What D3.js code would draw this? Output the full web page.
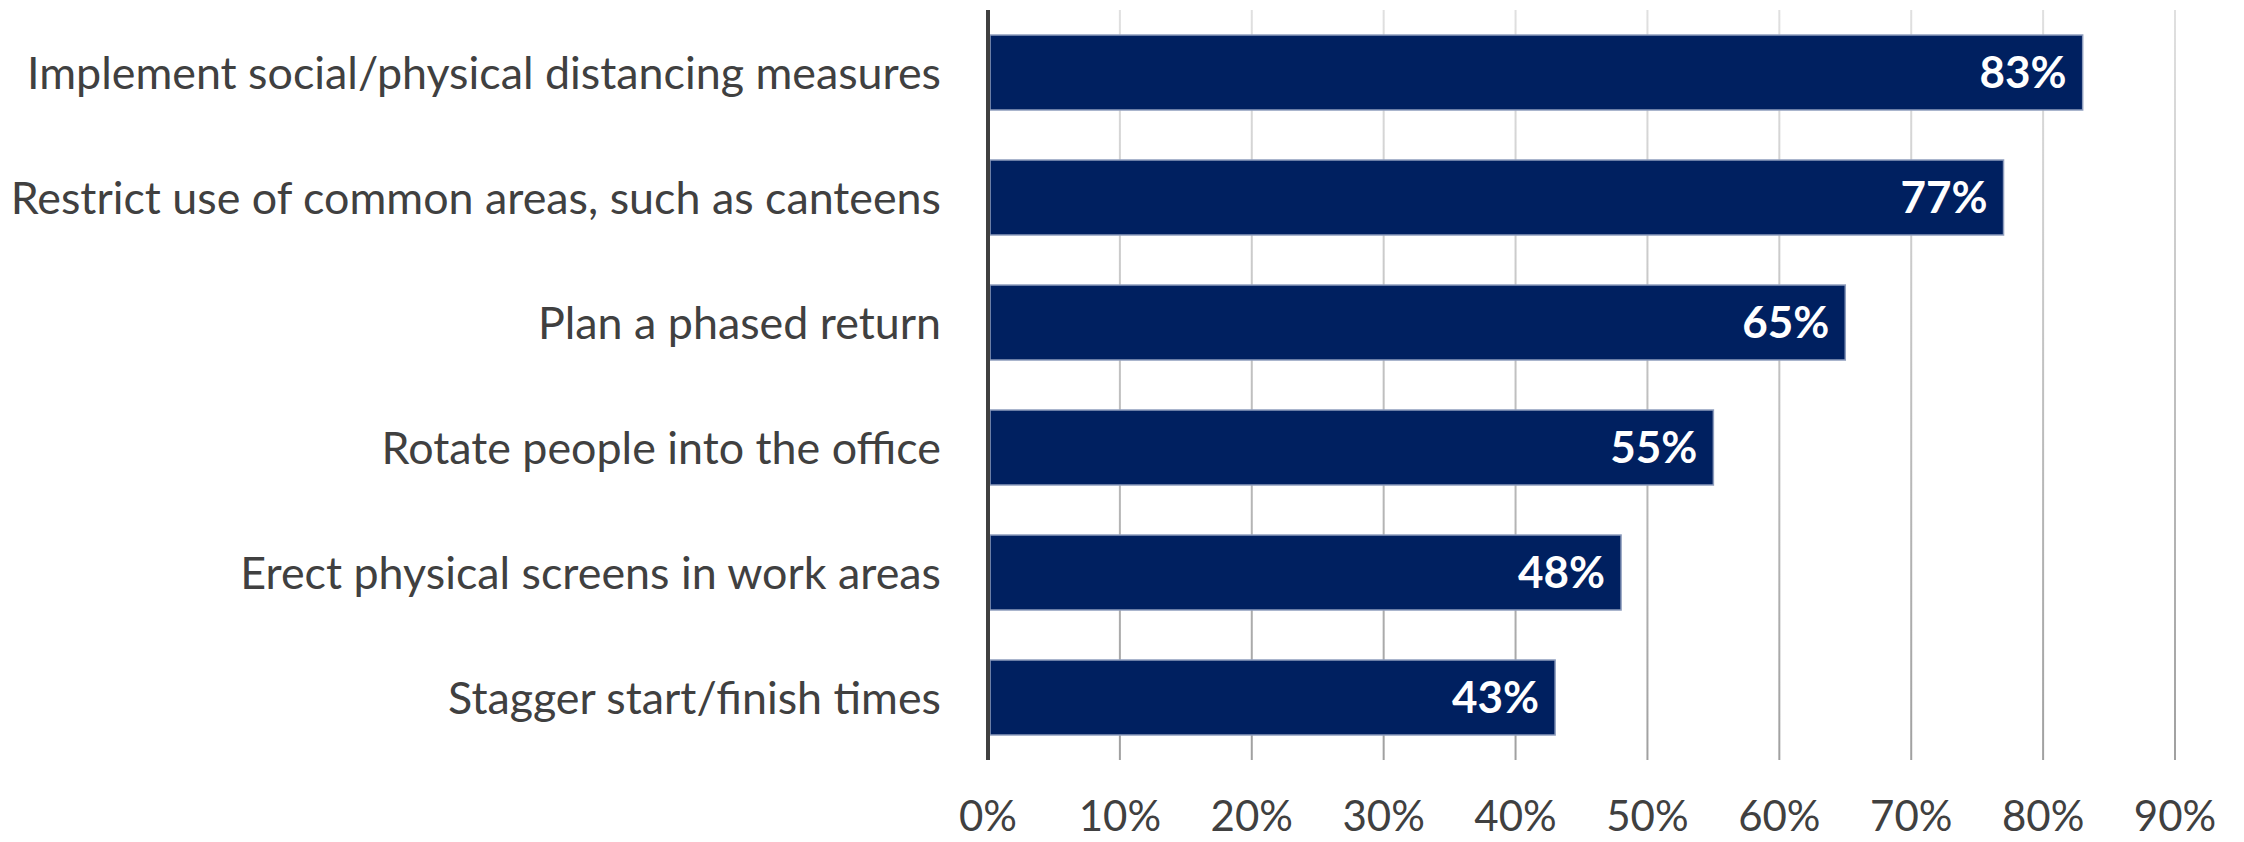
<!DOCTYPE html>
<html><head><meta charset="utf-8">
<script src="https://cdn.jsdelivr.net/npm/d3@7"></script>
<style>html,body{margin:0;padding:0;background:#fff;}</style>
</head><body>
<svg id="chart" width="2244" height="842"></svg>
<script>
const categories = [
  "Implement social/physical distancing measures",
  "Restrict use of common areas, such as canteens",
  "Plan a phased return",
  "Rotate people into the office",
  "Erect physical screens in work areas",
  "Stagger start/finish times"
];
const values = [0.83, 0.77, 0.65, 0.55, 0.48, 0.43];
const tickValues = [0, 0.1, 0.2, 0.3, 0.4, 0.5, 0.6, 0.7, 0.8, 0.9];

(function () {
const svg = d3.select("#chart");
const pLeft = 988, pRight = 2175, pTop = 10, pBottom = 760;
const font = "Lato, 'Open Sans', sans-serif";

const x = d3.scaleLinear().domain([0, 0.9]).range([pLeft, pRight]);
const y = d3.scaleBand().domain(categories).range([pTop, pBottom]).paddingInner(0.4).paddingOuter(0.2);

const defs = svg.append("defs");
const grad = defs.append("linearGradient").attr("id", "gridGrad")
  .attr("gradientUnits", "userSpaceOnUse").attr("x1", 0).attr("y1", pTop).attr("x2", 0).attr("y2", pBottom);
grad.append("stop").attr("offset", "0%").attr("stop-color", "#e0e0e0");
grad.append("stop").attr("offset", "100%").attr("stop-color", "#a0a0a0");

svg.append("g").selectAll("line").data(tickValues.slice(1)).join("line")
  .attr("x1", d => x(d)).attr("x2", d => x(d))
  .attr("y1", pTop).attr("y2", pBottom)
  .attr("stroke", "url(#gridGrad)").attr("stroke-width", 2);

svg.append("g").selectAll("rect").data(values).join("rect")
  .attr("x", x(0) + 2)
  .attr("y", (d, i) => y(categories[i]))
  .attr("width", d => x(d) - x(0) - 2)
  .attr("height", y.bandwidth())
  .attr("fill", "#002060")
  .attr("stroke", "#8e9dbd").attr("stroke-width", 1.5);

svg.append("g").selectAll("text").data(values).join("text")
  .attr("x", d => x(d) - 16)
  .attr("y", (d, i) => y(categories[i]) + y.bandwidth() / 2)
  .attr("dy", "0.36em")
  .attr("text-anchor", "end")
  .attr("font-family", font).attr("font-weight", "bold").attr("font-size", 44)
  .attr("fill", "#ffffff")
  .text(d => Math.round(d * 100) + "%");

svg.append("line").attr("x1", pLeft).attr("x2", pLeft).attr("y1", pTop).attr("y2", pBottom)
  .attr("stroke", "#404040").attr("stroke-width", 4);

svg.append("g").selectAll("text").data(categories).join("text")
  .attr("x", 941)
  .attr("y", d => y(d) + y.bandwidth() / 2)
  .attr("dy", "0.36em")
  .attr("text-anchor", "end")
  .attr("font-family", font).attr("font-size", 44.8)
  .attr("fill", "#404040")
  .text(d => d);

svg.append("g").selectAll("text").data(tickValues).join("text")
  .attr("x", d => x(d))
  .attr("y", 816)
  .attr("dy", "0.36em")
  .attr("text-anchor", "middle")
  .attr("font-family", font).attr("font-size", 42)
  .attr("fill", "#404040")
  .text(d3.format(".0%"));
})();
</script>
</body></html>
